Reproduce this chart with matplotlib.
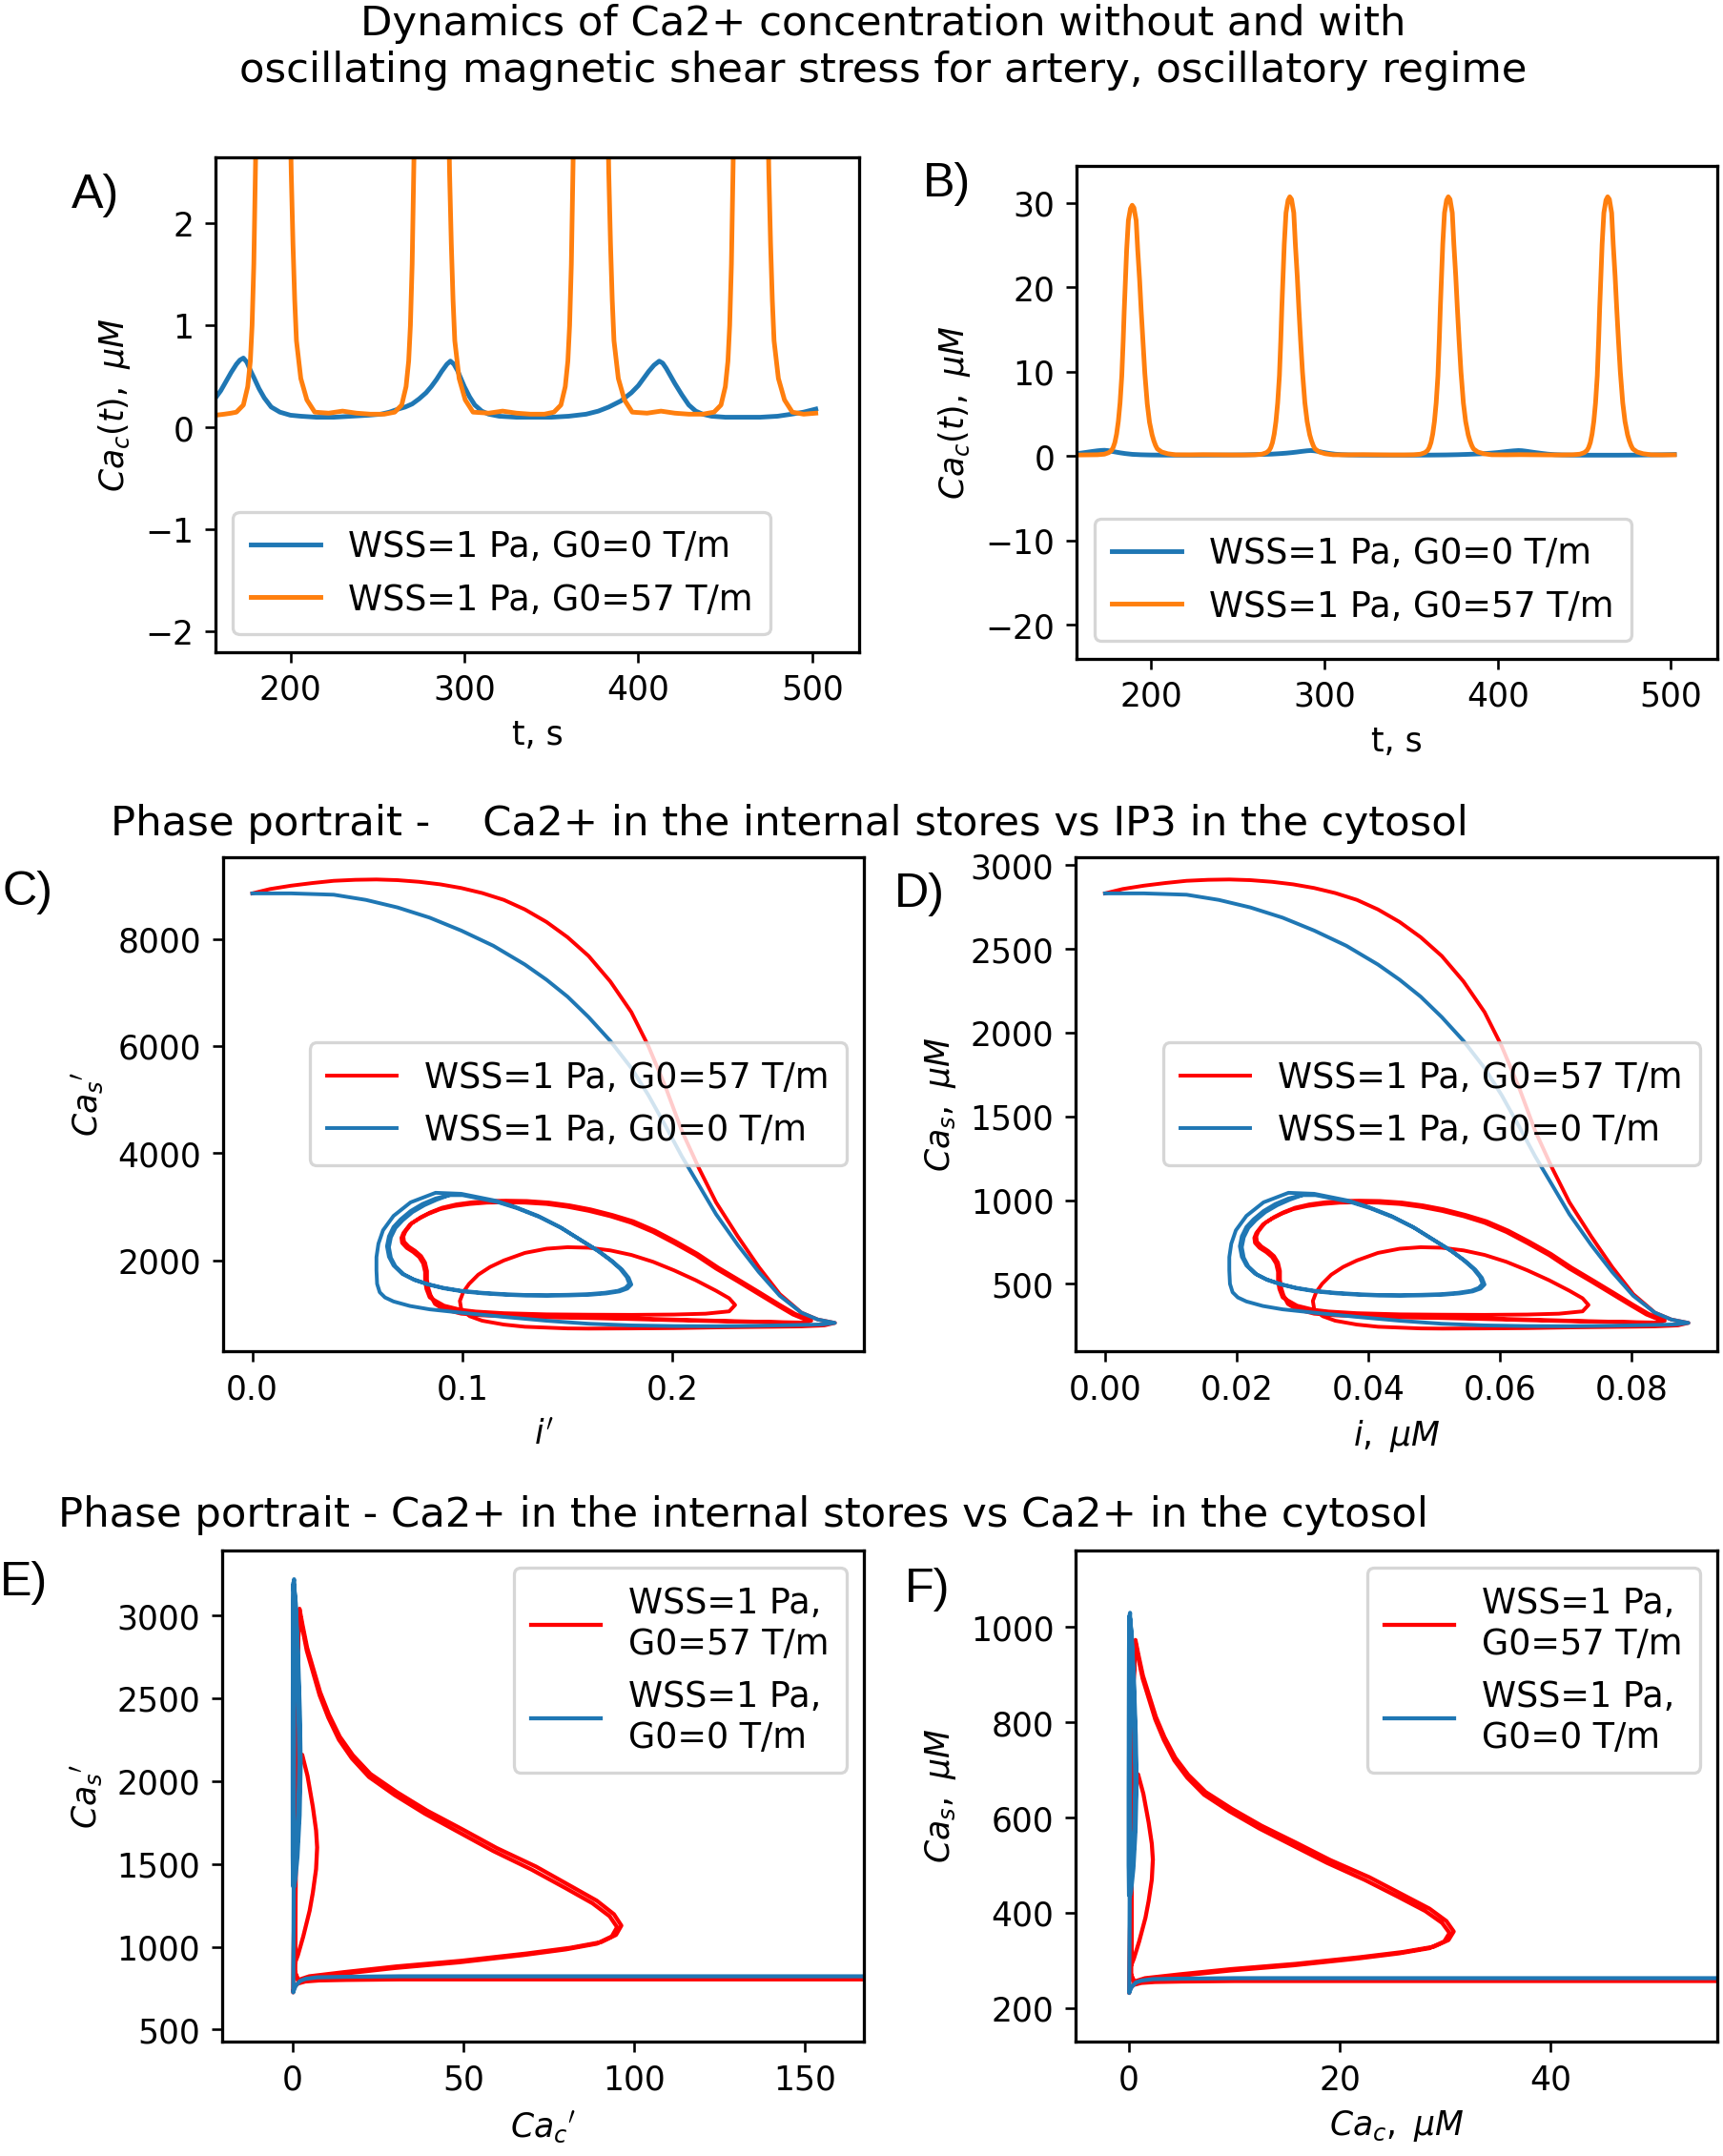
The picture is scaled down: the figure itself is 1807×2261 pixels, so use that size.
import matplotlib
matplotlib.use('Agg')
import matplotlib.pyplot as plt
import numpy as np

W, H, DPI = 1807, 2261, 235

BLUE = '#1f77b4'
ORANGE = '#ff7f0e'
RED = 'red'

LAB_G0 = 'WSS=1 Pa, G0=0 T/m'
LAB_G57 = 'WSS=1 Pa, G0=57 T/m'
LAB_G0_2 = 'WSS=1 Pa,\nG0=0 T/m'
LAB_G57_2 = 'WSS=1 Pa,\nG0=57 T/m'

# scale from uM to the dimensionless (primed) variables
nondim = 3.125

# ---- Ca_c(t), uM : time series (panels A, B)
t_g0 = [157, 160, 163, 166, 169, 171, 173, 175, 177, 179, 182, 185, 189, 194, 200, 206,
        215, 225, 235, 245, 252, 257, 262, 266, 270, 274, 278, 281, 284, 287, 290, 292,
        294, 296, 298, 300, 303, 306, 310, 314, 320, 330, 340, 350, 360, 370, 377, 383,
        390, 396, 400, 403, 406, 409, 412, 414, 416, 418, 421, 425, 429, 433, 437, 442,
        450, 460, 470, 480, 488, 495, 502]
ca_g0 = [0.29, 0.36, 0.45, 0.54, 0.62, 0.66, 0.68, 0.64, 0.56, 0.49, 0.38, 0.29, 0.20, 0.15, 0.12, 0.11,
         0.10, 0.10, 0.11, 0.12, 0.13, 0.15, 0.18, 0.20, 0.23, 0.28, 0.34, 0.40, 0.47, 0.55, 0.62, 0.65,
         0.62, 0.56, 0.48, 0.40, 0.30, 0.22, 0.16, 0.13, 0.11, 0.10, 0.10, 0.10, 0.11, 0.13, 0.16, 0.20,
         0.26, 0.34, 0.41, 0.48, 0.55, 0.61, 0.65, 0.63, 0.58, 0.52, 0.43, 0.32, 0.22, 0.16, 0.13, 0.11,
         0.10, 0.10, 0.10, 0.11, 0.13, 0.15, 0.18]

# G0=57 T/m: four spikes, read piece by piece
t_g57_p1 = [157, 162, 166, 169, 173, 175.5, 177, 178, 179, 180, 181, 182, 183, 183.8, 184.4,
            185.1, 185.8, 186.8, 188, 189, 190, 191.3, 192.2, 193.3, 194.2, 195.2, 196.3,
            197.7, 199, 200.5, 201.5, 202.5, 203.5, 206, 209.5, 214,
            222, 230, 238, 246, 254]
ca_g57_p1 = [0.12, 0.13, 0.14, 0.15, 0.22, 0.4, 0.65, 1.0, 1.6, 2.6, 4.1, 6.3, 9.5, 13.6, 17.2,
             20.8, 24.4, 27.9, 29.3, 29.7, 29.4, 27.9, 24.4, 20.8, 17.2, 13.6, 9.8,
             6.2, 4.0, 2.5, 1.8, 1.25, 0.85, 0.48, 0.27, 0.15,
             0.14, 0.16, 0.14, 0.13, 0.13]
t_g57_p2 = [260, 264, 266.5, 268, 269, 270, 271, 272, 273, 274, 274.8, 275.4, 276.1, 276.8,
            277.8, 279, 280, 281, 282.3, 283.2, 284.3, 285.2, 286.2, 287.3, 288.7, 290,
            291.5, 292.5, 293.5, 294.5, 297, 300.5, 305,
            314, 322, 330, 338, 346]
ca_g57_p2 = [0.15, 0.22, 0.4, 0.65, 1.0, 1.6, 2.6, 4.1, 6.3, 9.5, 13.8, 17.6, 21.3, 25.1,
             28.8, 30.3, 30.7, 30.4, 28.8, 25.1, 21.3, 17.6, 13.8, 10.0, 6.3, 4.1,
             2.5, 1.8, 1.25, 0.85, 0.48, 0.27, 0.15,
             0.14, 0.16, 0.14, 0.13, 0.13]
t_g57_p3 = [351.5, 355.5, 358, 359.5, 360.5, 361.5, 362.5, 363.5, 364.5, 365.5, 366.3, 366.9,
            367.6, 368.3, 369.3, 370.5, 371.5, 372.5, 373.8, 374.7, 375.8, 376.7, 377.7, 378.8,
            380.2, 381.5, 383, 384, 385, 386, 388.5, 392, 396.5,
            405, 413, 421, 429, 437]
ca_g57_p3 = [0.15, 0.22, 0.4, 0.65, 1.0, 1.6, 2.6, 4.1, 6.3, 9.5, 13.8, 17.6,
             21.3, 25.1, 28.8, 30.3, 30.7, 30.4, 28.8, 25.1, 21.3, 17.6, 13.8, 10.0,
             6.3, 4.1, 2.5, 1.8, 1.25, 0.85, 0.48, 0.27, 0.15,
             0.14, 0.16, 0.14, 0.13, 0.13]
t_g57_p4 = [443.5, 447.5, 450, 451.5, 452.5, 453.5, 454.5, 455.5, 456.5, 457.5, 458.3, 458.9,
            459.6, 460.3, 461.3, 462.5, 463.5, 464.5, 465.8, 466.7, 467.8, 468.7, 469.7, 470.8,
            472.2, 473.5, 475, 476, 477, 478, 480.5, 484, 488.5,
            495, 502]
ca_g57_p4 = [0.15, 0.22, 0.4, 0.65, 1.0, 1.6, 2.6, 4.1, 6.3, 9.5, 13.8, 17.6,
             21.3, 25.1, 28.8, 30.3, 30.7, 30.4, 28.8, 25.1, 21.3, 17.6, 13.8, 10.0,
             6.3, 4.1, 2.5, 1.8, 1.25, 0.85, 0.48, 0.27, 0.15,
             0.13, 0.14]

# ---- phase portrait, IP3 (i, uM) vs Ca_s (uM), panels C, D
ip3_red_start = [0.0, 0.0027, 0.0059, 0.0092, 0.0124, 0.0157, 0.0189, 0.0221, 0.0254, 0.0286,
                 0.0318, 0.0350, 0.0383, 0.0415, 0.0448, 0.0480, 0.0512, 0.0545, 0.0577, 0.0603,
                 0.0629, 0.0654, 0.0680, 0.0706, 0.0739, 0.0771, 0.0803, 0.0836, 0.0861, 0.0887,
                 0.0871, 0.0836, 0.0771, 0.0706, 0.0642, 0.0577, 0.0512, 0.048, 0.0415, 0.0383,
                 0.035, 0.0331,
                 0.0318, 0.0316, 0.0321, 0.0330, 0.0344, 0.0362, 0.0383, 0.0415, 0.0448, 0.0480,
                 0.0512, 0.0545, 0.0577, 0.0610, 0.0642, 0.0675, 0.0706, 0.0726, 0.0735,
                 0.0726, 0.0690, 0.0642, 0.0577, 0.0512, 0.0448, 0.0383, 0.0340, 0.0318, 0.0292]
cas_red_start = [2832, 2858, 2878, 2894, 2907, 2913, 2915, 2911, 2901, 2886,
                 2864, 2834, 2793, 2736, 2661, 2570, 2458, 2306, 2123, 1920,
                 1677, 1413, 1190, 987, 784, 601, 439, 328, 287, 267,
                 252, 246, 243, 240, 236, 234, 233, 234, 244, 257,
                 280, 307,
                 350, 398, 450, 500, 555, 601, 640, 685, 710, 719,
                 716, 700, 673, 632, 581, 522, 459, 414, 374,
                 336, 322, 317, 315, 316, 318, 325, 335, 345, 370]
ip3_red_cyc1 = [0.0270, 0.0265, 0.0263, 0.0263, 0.0260, 0.0254, 0.0245, 0.0235, 0.0228, 0.0227,
                0.0230, 0.0240, 0.0254, 0.0268, 0.0286, 0.0308, 0.0331, 0.0357, 0.0383, 0.0415,
                0.0448, 0.0480, 0.0512, 0.0545, 0.0577, 0.0610, 0.0642, 0.0675, 0.0706, 0.0739,
                0.0771, 0.0800, 0.0823, 0.0840, 0.0848,
                0.0836, 0.0771, 0.0706, 0.0642, 0.0577, 0.0512, 0.0448, 0.0400, 0.0350, 0.0318,
                0.0300, 0.0287, 0.0278]
cas_red_cyc1 = [419, 470, 520, 572, 622, 660, 690, 715, 745, 775,
                804, 855, 890, 918, 946, 965, 977, 985, 987, 985,
                977, 960, 936, 904, 865, 810, 744, 672, 591, 515,
                439, 370, 317, 290, 277,
                267, 272, 277, 283, 290, 296, 300, 305, 312, 322,
                340, 358, 380]
ip3_red_cyc2 = [0.0272, 0.0268, 0.0266, 0.0266, 0.0263, 0.0257, 0.0248, 0.0238, 0.0231, 0.0230,
                0.0233, 0.0243, 0.0257, 0.0271, 0.0289, 0.0311, 0.0334, 0.0360, 0.0386, 0.0418,
                0.0451, 0.0483, 0.0515, 0.0548, 0.0580, 0.0613, 0.0645, 0.0678, 0.0709, 0.0742,
                0.0774, 0.0803, 0.0826, 0.0843, 0.0851,
                0.0839, 0.0774, 0.0709, 0.0645, 0.0580, 0.0515, 0.0451, 0.0403, 0.0353, 0.0321,
                0.0303, 0.0289, 0.0280, 0.0272]
cas_red_cyc2 = [425, 475, 525, 577, 627, 666, 697, 723, 752, 783,
                812, 863, 899, 927, 955, 975, 987, 995, 997, 995,
                986, 969, 945, 912, 874, 818, 752, 679, 598, 521,
                445, 375, 322, 293, 280,
                269, 274, 280, 287, 294, 300, 305, 310, 317, 327,
                345, 363, 385, 425]

ip3_blue_start = [0.0, 0.0059, 0.0124, 0.0173, 0.0221, 0.0270, 0.0318, 0.0367, 0.0415, 0.0448,
                  0.0480, 0.0512, 0.0545, 0.0577, 0.0603, 0.0629, 0.0654, 0.0680, 0.0706, 0.0739,
                  0.0771, 0.0803, 0.0836, 0.0861, 0.0887,
                  0.0868, 0.0836, 0.0771, 0.0706, 0.0642, 0.0577, 0.0512, 0.0448, 0.0383, 0.0318,
                  0.027, 0.024, 0.0215, 0.0202,
                  0.0194, 0.0190, 0.0189, 0.0189, 0.0192, 0.0199, 0.0215, 0.0241, 0.0279]
cas_blue_start = [2832, 2832, 2824, 2793, 2748, 2687, 2610, 2519, 2407, 2316,
                  2215, 2093, 1951, 1789, 1627, 1444, 1261, 1089, 916, 733,
                  571, 429, 328, 287, 267,
                  258, 255, 250, 247, 248, 252, 262, 280, 303, 328,
                  348, 368, 395, 419,
                  450, 500, 580, 660, 740, 820, 906, 987, 1044]
ip3_blue_cyc1 = [0.0318, 0.037, 0.0400, 0.0435, 0.0468, 0.0499, 0.0525, 0.0545, 0.0560, 0.057,
                 0.0574, 0.0568, 0.0557, 0.0537, 0.0512, 0.0480, 0.0448, 0.0415, 0.0383, 0.0350,
                 0.0318, 0.0290, 0.0266, 0.0245, 0.0228, 0.0215, 0.0208, 0.0205, 0.0208, 0.0215,
                 0.0226, 0.0241, 0.0259, 0.0279]
cas_blue_cyc1 = [1038, 997, 960, 906, 840, 764, 700, 642, 590, 541,
                 500, 476, 459, 447, 439, 435, 433, 434, 439, 447,
                 459, 477, 500, 528, 561, 610, 662, 725, 784, 840,
                 886, 935, 977, 1010]
ip3_blue_cyc2 = [0.0300, 0.0320, 0.0373, 0.0403, 0.0438, 0.0471, 0.0502, 0.0528, 0.0548, 0.0563,
                 0.0573, 0.0577, 0.0571, 0.0559, 0.0539, 0.0514, 0.0482, 0.0450, 0.0417, 0.0385,
                 0.0352, 0.0320, 0.0292, 0.0268, 0.0247, 0.0231, 0.0218, 0.0211, 0.0208, 0.0211,
                 0.0218, 0.0229, 0.0244, 0.0262, 0.0281, 0.0300]
cas_blue_cyc2 = [1030, 1030, 989, 952, 898, 833, 757, 694, 636, 585,
                 536, 496, 472, 455, 443, 435, 431, 429, 430, 435,
                 443, 455, 473, 496, 523, 556, 604, 656, 719, 778,
                 834, 880, 929, 970, 1003, 1030]

# ---- phase portrait, Ca_c (uM) vs Ca_s (uM), panels E, F
cac_red_start = [62, 40, 20, 10, 5, 2.5, 1.2, 0.5, 0.2, 0.08, 0.05,
                 0.08, 0.12, 0.2, 0.35, 0.6, 0.9, 1.4, 1.9, 2.2, 2.3, 2.2, 1.9, 1.6, 1.0, 0.5, 0.25, 0.2]
cas_red_f_start = [257, 257, 257, 257, 256, 255, 253, 249, 243, 236, 232,
                   300, 360, 440, 560, 660, 691, 650, 590, 545, 512, 470, 425, 390, 340, 304, 290, 300]
cac_red_cyc1 = [0.25, 0.28, 0.32, 0.38, 0.46, 0.64, 0.92, 1.33, 1.93, 2.53, 3.34, 4.34, 5.55,
                7.16, 9.57, 12.4, 15.6, 18.8, 22.4, 25.6, 28.1, 29.7, 30.4, 29.9, 28.5, 25.6,
                21.6, 15.6, 9.57, 4.74, 1.53, 0.52, 0.25]
cas_red_f_cyc1 = [320, 450, 600, 750, 880, 968, 935, 892, 849, 806, 763, 720, 684,
                  648, 613, 577, 541, 505, 469, 433, 404, 379, 358, 340, 326, 315,
                  304, 290, 279, 268, 261, 254, 268]
cac_red_cyc2 = [0.26, 0.29, 0.33, 0.39, 0.47, 0.65, 0.94, 1.36, 1.97, 2.58, 3.40, 4.42, 5.65,
                7.29, 9.75, 12.6, 15.9, 19.1, 22.8, 26.0, 28.5, 30.1, 30.8, 30.3, 28.9, 26.0,
                21.9, 15.8, 9.7, 4.8, 1.56, 0.54, 0.26]
cas_red_f_cyc2 = [310, 455, 605, 755, 884, 973, 941, 898, 855, 812, 769, 726, 690,
                  654, 619, 583, 547, 511, 475, 438, 409, 383, 361, 343, 329, 318,
                  307, 293, 282, 271, 263, 256, 270]

cac_blue_start = [62, 40, 20, 10, 5, 2.3, 1.2, 0.7, 0.3, 0.1, 0.06,
                  0.08, 0.1, 0.12, 0.14, 0.15, 0.16, 0.14]
cas_blue_f_start = [263, 263, 263, 263, 262, 261, 258, 254, 245, 235, 232,
                    300, 400, 550, 700, 850, 980, 1030]
cac_blue_cyc1 = [0.10, 0.25, 0.45, 0.62, 0.70, 0.60, 0.40, 0.20, 0.08, 0.04, 0.04, 0.05, 0.07, 0.10]
cas_blue_f_cyc1 = [1025, 990, 900, 780, 680, 580, 500, 455, 440, 500, 650, 800, 950, 1020]
cac_blue_cyc2 = [0.14, 0.30, 0.50, 0.68, 0.76, 0.66, 0.46, 0.26, 0.13, 0.08, 0.08, 0.09, 0.11, 0.14]
cas_blue_f_cyc2 = [1018, 983, 893, 773, 673, 574, 494, 450, 435, 495, 645, 795, 945, 1015]
cac_blue_cyc3 = [0.05, 0.18, 0.38, 0.55, 0.63, 0.54, 0.34, 0.16, 0.04, 0.01, 0.01, 0.02, 0.04, 0.06]
cas_blue_f_cyc3 = [1022, 987, 897, 777, 677, 577, 497, 452, 437, 497, 647, 797, 947, 1017]


def box(x0, y0, x1, y1):
    # pixel rectangle (top-left origin) -> figure fraction
    return [x0 / W, 1 - y1 / H, (x1 - x0) / W, (y1 - y0) / H]


plt.rcParams['font.size'] = 10.6
plt.rcParams['legend.fontsize'] = 11.2
plt.rcParams['axes.linewidth'] = 1.0

fig = plt.figure(figsize=((W + 0.4) / DPI, (H + 0.4) / DPI), dpi=DPI)

fig.text(926 / W, 1 - 4 / H,
         'Dynamics of Ca2+ concentration without and with\n'
         'oscillating magnetic shear stress for artery, oscillatory regime',
         ha='center', va='top', fontsize=13.3)
fig.text(116 / W, 1 - 876 / H,
         'Phase portrait -    Ca2+ in the internal stores vs IP3 in the cytosol',
         ha='left', va='baseline', fontsize=13.3)
fig.text(61 / W, 1 - 1601 / H,
         'Phase portrait - Ca2+ in the internal stores vs Ca2+ in the cytosol',
         ha='left', va='baseline', fontsize=13.3)

letters = [('A)', 75, 218), ('B)', 968, 206), ('C)', 2, 949),
           ('D)', 938, 951), ('E)', 0, 1673), ('F)', 949, 1680)]
for s, x, y in letters:
    fig.text(x / W, 1 - y / H, s, ha='left', va='baseline', fontsize=15.4,
             family=['Liberation Sans', 'DejaVu Sans'])

# A and B: time series
t_g57 = t_g57_p1 + t_g57_p2 + t_g57_p3 + t_g57_p4
ca_g57 = ca_g57_p1 + ca_g57_p2 + ca_g57_p3 + ca_g57_p4

axA = fig.add_axes(box(226, 165, 901, 684))
axB = fig.add_axes(box(1129, 174, 1801, 691))
for ax, ylim, yt in [(axA, (-2.2, 2.65), [-2, -1, 0, 1, 2]),
                     (axB, (-24, 34.4), [-20, -10, 0, 10, 20, 30])]:
    ax.plot(t_g0, ca_g0, color=BLUE, label=LAB_G0)
    ax.plot(t_g57, ca_g57, color=ORANGE, label=LAB_G57)
    ax.set_xlim(157, 527)
    ax.set_ylim(*ylim)
    ax.set_xticks([200, 300, 400, 500])
    ax.set_yticks(yt)
    ax.set_xlabel('t, s')
    ax.set_ylabel(r'$Ca_c(t),\ \mu M$')
    ax.legend(loc='lower left', borderpad=0.5)

# C and D: Ca_s vs IP3
ip3_red = np.array(ip3_red_start + ip3_red_cyc1 + ip3_red_cyc2)
cas_red = np.array(cas_red_start + cas_red_cyc1 + cas_red_cyc2)
ip3_blue = np.array(ip3_blue_start + ip3_blue_cyc1 + ip3_blue_cyc2)
cas_blue = np.array(cas_blue_start + cas_blue_cyc1 + cas_blue_cyc2)

axC = fig.add_axes(box(234, 899, 906, 1417))
axD = fig.add_axes(box(1128, 899, 1801, 1417))
for ax, k in [(axC, nondim), (axD, 1.0)]:
    ax.plot(ip3_red * k, cas_red * k, color=RED, lw=1.2, label=LAB_G57)
    ax.plot(ip3_blue * k, cas_blue * k, color=BLUE, lw=1.2, label=LAB_G0)
    ax.legend(loc='center right', borderpad=0.5)
axC.set_xticks([0.0, 0.1, 0.2])
axC.set_yticks([2000, 4000, 6000, 8000])
axC.set_xlabel(r"$i'$")
axC.set_ylabel(r"$Ca_s{'}$")
axD.set_xticks([0.0, 0.02, 0.04, 0.06, 0.08])
axD.set_yticks([500, 1000, 1500, 2000, 2500, 3000])
axD.set_xlabel(r'$i,\ \mu M$')
axD.set_ylabel(r'$Ca_s,\ \mu M$')

# E and F: Ca_s vs Ca_c
cac_red = np.array(cac_red_start + cac_red_cyc1 + cac_red_cyc2)
cas_red_f = np.array(cas_red_f_start + cas_red_f_cyc1 + cas_red_f_cyc2)
cac_blue = np.array(cac_blue_start + cac_blue_cyc1 + cac_blue_cyc2 + cac_blue_cyc3)
cas_blue_f = np.array(cas_blue_f_start + cas_blue_f_cyc1 + cas_blue_f_cyc2 + cas_blue_f_cyc3)

axE = fig.add_axes(box(233, 1626, 906, 2141))
axF = fig.add_axes(box(1128, 1626, 1801, 2141))
for ax, k in [(axE, nondim), (axF, 1.0)]:
    ax.plot(cac_red * k, cas_red_f * k, color=RED, lw=1.3, label=LAB_G57_2)
    ax.plot(cac_blue * k, cas_blue_f * k, color=BLUE, lw=1.3, label=LAB_G0_2)
    ax.legend(loc='upper right', borderpad=0.5)
axE.set_xlim(-20.6, 167.3)
axE.set_ylim(428, 3393)
axE.set_xticks([0, 50, 100, 150])
axE.set_yticks([500, 1000, 1500, 2000, 2500, 3000])
axE.set_xlabel(r"$Ca_c{'}$")
axE.set_ylabel(r"$Ca_s{'}$")
axF.set_xlim(-5, 55.8)
axF.set_ylim(130, 1161)
axF.set_xticks([0, 20, 40])
axF.set_yticks([200, 400, 600, 800, 1000])
axF.set_xlabel(r'$Ca_c,\ \mu M$')
axF.set_ylabel(r'$Ca_s,\ \mu M$')

fig.savefig('out.png', dpi=DPI)
